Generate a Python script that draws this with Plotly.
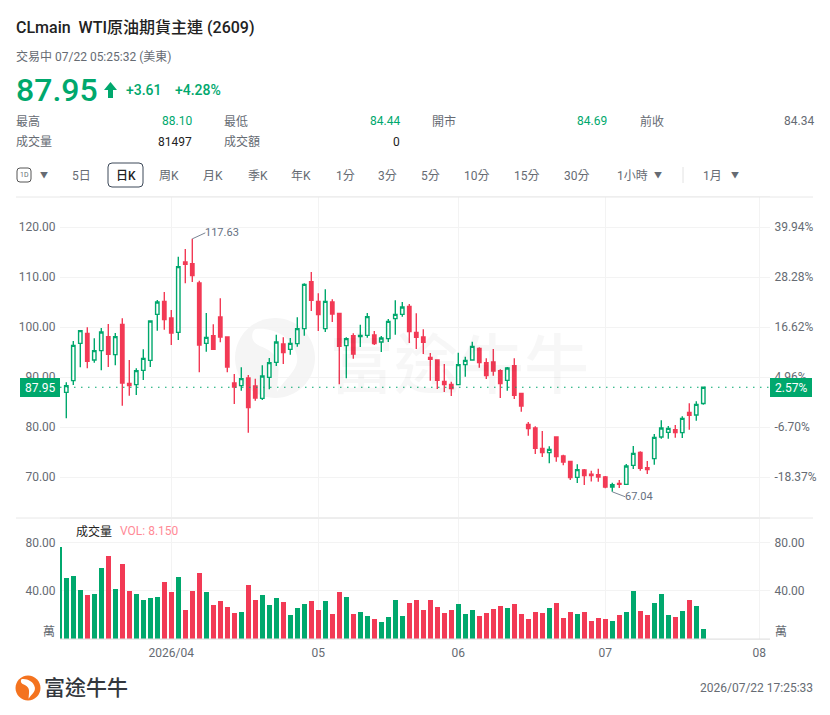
import plotly.graph_objects as go

# candles (volume has one extra bar at the left edge)
opens = [86.93, 89.27, 96.73, 98.73, 93.40, 95.27, 98.07, 94.47, 100.53, 88.73,
         88.47, 91.33, 93.33, 102.53, 105.13, 101.80, 98.93, 113.00, 112.67, 108.80,
         96.73, 98.27, 102.00, 98.00, 88.80, 88.27, 89.80, 88.20, 85.73, 89.93,
         92.93, 96.60, 95.53, 96.67, 99.67, 109.07, 105.13, 99.67, 105.00, 102.73,
         96.27, 98.27, 98.07, 98.33, 98.40, 97.00, 97.67, 101.67, 102.53, 104.13,
         98.93, 98.00, 93.93, 93.40, 89.13, 88.53, 88.47, 92.47, 93.40, 95.73,
         92.87, 93.00, 91.27, 89.33, 92.27, 86.73, 80.53, 79.80, 75.73, 74.87,
         78.00, 74.20, 73.13, 69.93, 71.40, 70.55, 70.47, 70.00, 68.00, 68.73,
         68.53, 72.33, 74.93, 71.87, 73.67, 78.00, 78.93, 79.47, 78.87, 82.93,
         82.40, 84.69]
highs = [88.93, 97.20, 99.33, 99.93, 97.73, 99.80, 100.60, 98.80, 101.73, 93.40,
         91.73, 95.53, 101.33, 105.40, 107.00, 103.40, 114.07, 115.60, 117.63, 109.27,
         102.80, 100.53, 105.73, 98.13, 90.60, 91.93, 90.40, 89.67, 92.33, 93.80,
         98.47, 97.93, 97.80, 101.93, 108.73, 111.00, 106.73, 107.53, 105.53, 102.73,
         97.93, 98.73, 100.47, 102.80, 99.20, 98.20, 101.60, 105.33, 105.00, 104.60,
         102.73, 99.53, 94.80, 93.53, 92.60, 89.07, 94.87, 94.07, 97.07, 95.93,
         93.73, 95.60, 91.53, 92.00, 93.73, 86.87, 81.00, 80.13, 79.20, 76.13,
         78.13, 74.47, 73.20, 72.53, 71.60, 71.27, 71.67, 70.20, 68.87, 69.40,
         72.60, 76.20, 75.13, 73.20, 78.60, 81.33, 80.20, 80.40, 82.13, 84.73,
         85.13, 88.10]
lows = [81.73, 88.40, 91.93, 91.73, 92.87, 91.33, 92.00, 92.33, 84.27, 86.27,
        86.40, 89.40, 92.00, 99.27, 99.47, 96.40, 97.40, 108.73, 109.00, 90.93,
        95.07, 95.40, 96.93, 90.93, 84.60, 87.27, 78.87, 85.27, 85.40, 87.53,
        92.20, 92.60, 94.47, 96.07, 98.27, 103.20, 99.20, 99.00, 101.00, 88.53,
        89.73, 93.67, 96.00, 97.87, 96.40, 95.00, 97.00, 98.47, 102.07, 96.80,
        95.60, 94.60, 89.27, 87.60, 87.00, 86.20, 88.33, 90.07, 93.27, 91.87,
        89.60, 90.27, 85.80, 87.27, 85.60, 83.07, 78.27, 74.60, 74.00, 72.73,
        73.07, 72.33, 69.40, 68.80, 68.40, 69.10, 69.07, 67.73, 67.04, 67.80,
        68.47, 71.60, 71.27, 70.60, 72.47, 77.67, 77.67, 77.87, 77.80, 79.47,
        81.27, 84.44]
closes = [88.27, 96.33, 99.27, 93.13, 95.27, 99.00, 94.53, 98.07, 88.80, 88.27,
          91.27, 93.73, 101.20, 105.00, 101.47, 98.80, 112.07, 112.53, 110.27, 96.40,
          97.93, 95.53, 98.00, 92.00, 88.00, 89.67, 83.87, 85.80, 90.20, 92.87,
          97.00, 94.87, 96.73, 99.67, 108.53, 105.33, 102.47, 105.13, 102.60, 96.13,
          97.67, 94.60, 98.33, 102.07, 96.67, 97.80, 101.13, 102.53, 104.00, 99.07,
          97.93, 96.93, 93.53, 89.33, 88.47, 87.67, 92.47, 93.33, 96.13, 92.87,
          90.27, 91.20, 88.67, 91.80, 86.33, 84.20, 79.67, 75.73, 74.87, 75.53,
          74.07, 73.00, 69.87, 71.47, 70.27, 70.30, 70.00, 68.00, 68.47, 68.53,
          72.20, 74.73, 71.73, 71.47, 77.93, 79.80, 79.73, 78.87, 81.73, 82.33,
          84.53, 87.95]
volumes = [76.7, 50.6, 52.2, 40.6, 36.4, 37.2, 58.9, 69.2, 41.7, 62.5,
           40.0, 37.5, 32.8, 33.9, 35.0, 47.2, 38.9, 51.4, 24.2, 39.7,
           55.0, 39.4, 28.3, 31.4, 26.9, 21.9, 22.2, 45.0, 32.8, 36.7,
           28.0, 34.4, 30.6, 19.7, 25.6, 29.4, 31.7, 24.2, 31.7, 20.6,
           39.2, 35.0, 21.1, 22.2, 19.2, 16.4, 13.9, 18.1, 32.2, 18.9,
           29.7, 32.5, 24.2, 32.8, 26.9, 21.4, 24.2, 28.9, 20.6, 23.9,
           19.4, 21.7, 24.7, 27.2, 25.6, 28.9, 20.6, 16.9, 22.2, 21.9,
           25.6, 29.7, 17.2, 22.5, 20.6, 22.2, 15.0, 17.2, 16.9, 15.3,
           20.0, 22.8, 40.0, 23.6, 19.7, 29.7, 37.5, 20.0, 18.3, 23.3,
           32.2, 27.2, 8.15]

date_ticks = [16, 37, 57, 78, 100]
date_labels = ['2026/04', '05', '06', '07', '08']
price_ticks = [70, 80, 90, 100, 110, 120]
pct_labels = ['-18.37%', '-6.70%', '4.96%', '16.62%', '28.28%', '39.94%']
vol_ticks = [40, 80]
last_price = 87.95
last_pct = '2.57%'

GREEN = '#00A86D'
RED = '#F23A55'
GRAY = '#666B73'
DARK = '#222222'
GRID = '#F3F3F3'
FONT = 'Roboto, "Noto Sans CJK TC", sans-serif'
W, H = 830, 715


def px(x):
    return x / W


def py(y):
    return 1 - y / H


x_candles = list(range(1, len(closes) + 1))
x_volume = list(range(len(volumes)))
# the first volume bar has no visible candle, it is green in the picture
bar_colors = [GREEN] + [GREEN if c >= o else RED for o, c in zip(opens, closes)]

fig = go.Figure()
fig.add_trace(go.Candlestick(x=x_candles, open=opens, high=highs, low=lows, close=closes,
                             xaxis='x', yaxis='y',
                             increasing=dict(line=dict(color=GREEN, width=1.4), fillcolor='white'),
                             decreasing=dict(line=dict(color=RED, width=1.4), fillcolor=RED)))
fig.add_trace(go.Scatter(x=x_candles, y=closes, xaxis='x', yaxis='y3', mode='lines',
                         line=dict(width=0), opacity=0, hoverinfo='skip'))
fig.add_trace(go.Bar(x=x_volume, y=volumes, xaxis='x2', yaxis='y2', width=0.72,
                     marker=dict(color=bar_colors, line=dict(width=0))))
fig.add_trace(go.Scatter(x=x_volume, y=volumes, xaxis='x2', yaxis='y4', mode='lines',
                         line=dict(width=0), opacity=0, hoverinfo='skip'))

x_range = [0.1, 101.53]
price_range = [61.8, 126]
vol_range = [0, 100.8]
tickfont = dict(family=FONT, size=12, color=GRAY)
common_x = dict(range=x_range, domain=[px(60), px(770)], tickvals=date_ticks, showgrid=True,
                gridcolor=GRID, gridwidth=1, zeroline=False, showline=True, linecolor=GRID,
                mirror=True)
common_y = dict(showgrid=True, gridcolor=GRID, gridwidth=1, zeroline=False, showline=False,
                tickfont=tickfont, ticks='outside', ticklen=1, tickcolor='rgba(0,0,0,0)')

fig.update_layout(
    width=W, height=H, margin=dict(l=0, r=0, t=0, b=0), autosize=False,
    paper_bgcolor='white', plot_bgcolor='white', showlegend=False,
    font=dict(family=FONT), bargap=0,
    xaxis=dict(common_x, anchor='y', showticklabels=False, ticks='', rangeslider=dict(visible=False)),
    xaxis2=dict(common_x, anchor='y2', ticktext=date_labels, tickmode='array', tickfont=tickfont,
                ticks='outside', ticklen=3, tickcolor='rgba(0,0,0,0)'),
    yaxis=dict(common_y, domain=[py(518), py(197)], range=price_range, tickvals=price_ticks,
               tickformat='.2f', side='left'),
    yaxis3=dict(common_y, range=price_range, tickvals=price_ticks, ticktext=pct_labels,
                overlaying='y', side='right', anchor='x', showgrid=False),
    yaxis2=dict(common_y, domain=[py(639), py(518)], range=vol_range, tickvals=vol_ticks,
                tickformat='.2f', side='left'),
    yaxis4=dict(common_y, range=vol_range, tickvals=vol_ticks, tickformat='.2f',
                overlaying='y2', side='right', anchor='x2', showgrid=False),
)


def text(x, y, s, size=12, color=GRAY, anchor='left', weight=400):
    fig.add_annotation(xref='paper', yref='paper', x=px(x), y=py(y), text=s, showarrow=False,
                       xanchor=anchor, yanchor='middle', borderpad=0, borderwidth=0,
                       font=dict(family=FONT, size=size, color=color, weight=weight))


def rounded_rect(x0, y0, x1, y1, r):
    return (f'M {px(x0 + r)} {py(y0)} L {px(x1 - r)} {py(y0)} Q {px(x1)} {py(y0)} {px(x1)} {py(y0 + r)} '
            f'L {px(x1)} {py(y1 - r)} Q {px(x1)} {py(y1)} {px(x1 - r)} {py(y1)} '
            f'L {px(x0 + r)} {py(y1)} Q {px(x0)} {py(y1)} {px(x0)} {py(y1 - r)} '
            f'L {px(x0)} {py(y0 + r)} Q {px(x0)} {py(y0)} {px(x0 + r)} {py(y0)} Z')


def logo(cx, cy, r, color, layer='above'):
    # brand mark, a disc with the white head cut out of it
    def p(u, v):
        return f'{px(cx + u * r)} {py(cy + v * r)}'
    disc = (f'M {p(-1, 0)} C {p(-1, -0.55)} {p(-0.55, -1)} {p(0, -1)} C {p(0.55, -1)} {p(1, -0.55)} {p(1, 0)} '
            f'C {p(1, 0.55)} {p(0.55, 1)} {p(0, 1)} C {p(-0.55, 1)} {p(-1, 0.55)} {p(-1, 0)} Z')
    head = (f'M {p(-0.5, -0.72)} C {p(-0.1, -0.78)} {p(0.45, -0.55)} {p(0.55, -0.05)} '
            f'C {p(0.6, 0.3)} {p(0.3, 0.45)} {p(0.05, 0.85)} C {p(0.05, 0.45)} {p(0.2, 0.1)} {p(-0.1, -0.15)} '
            f'C {p(-0.25, -0.28)} {p(-0.42, -0.28)} {p(-0.52, -0.4)} C {p(-0.6, -0.5)} {p(-0.58, -0.65)} {p(-0.5, -0.72)} Z')
    fig.add_shape(type='path', path=disc, xref='paper', yref='paper', fillcolor=color,
                  line=dict(width=0), layer=layer)
    fig.add_shape(type='path', path=head, xref='paper', yref='paper', fillcolor='white',
                  line=dict(width=0), layer=layer)


# header
text(16, 28, 'CLmain&nbsp;&nbsp;WTI原油期貨主連 (2609)', 16, DARK, weight=500)
text(16, 56, '交易中 07/22 05:25:32 (美東)', 12, GRAY)
text(16, 90, '87.95', 32, GREEN, weight=500)
text(126, 90, '+3.61', 14, GREEN, weight=500)
text(175, 90, '+4.28%', 14, GREEN, weight=500)
arrow = [(110.5, 82), (117, 90), (113, 90), (113, 98), (108, 98), (108, 90), (104, 90)]
fig.add_shape(type='path', xref='paper', yref='paper', fillcolor=GREEN, line=dict(width=0),
              path='M ' + ' L '.join(f'{px(a)} {py(b)}' for a, b in arrow) + ' Z')

for label, lx, val, vx, vc, row_y in [('最高', 16, '88.10', 192, GREEN, 121.5), ('最低', 224, '84.44', 400, GREEN, 121.5),
                                      ('開市', 432, '84.69', 607, GREEN, 121.5), ('前收', 640, '84.34', 814, GRAY, 121.5),
                                      ('成交量', 16, '81497', 192, DARK, 141.5), ('成交額', 224, '0', 400, DARK, 141.5)]:
    text(lx, row_y, label, 12, GRAY)
    text(vx, row_y, val, 12, vc, anchor='right')

# period toolbar
toolbar = [('5日', 81), ('周K', 169), ('月K', 213), ('季K', 258), ('年K', 301), ('1分', 345), ('3分', 387),
           ('5分', 430), ('10分', 477), ('15分', 527), ('30分', 577), ('1小時', 632), ('1月', 712)]
for label, cx in toolbar:
    text(cx, 175.5, label, 12, GRAY, anchor='center')
text(125.5, 175.5, '日K', 12, DARK, anchor='center', weight=500)
for cx in [44, 658, 735]:
    text(cx, 175, '▼', 8, GRAY, anchor='center')
fig.add_shape(type='path', path=rounded_rect(108, 163, 143, 187, 4), xref='paper', yref='paper',
              line=dict(color='#3C4858', width=1))
fig.add_shape(type='path', path=rounded_rect(17, 168, 31, 182, 3), xref='paper', yref='paper',
              line=dict(color='#555555', width=1))
text(24, 175, '1D', 7, GRAY, anchor='center')
fig.add_shape(type='line', xref='paper', yref='paper', x0=px(683), x1=px(683), y0=py(167), y1=py(183),
              line=dict(color='#E2E2E2', width=1))

# panel separators
for ly in [197, 518]:
    fig.add_shape(type='line', xref='paper', yref='paper', x0=px(16), x1=px(813), y0=py(ly), y1=py(ly),
                  line=dict(color='#E8E8E8', width=1))
fig.add_shape(type='line', xref='paper', yref='paper', x0=px(60), x1=px(770), y0=py(639), y1=py(639),
              line=dict(color='#E0E0E0', width=1))

# watermark
logo(275, 358, 40, '#F5F5F5', layer='below')
text(459, 366, '富途牛牛', 65, 'rgba(0,0,0,0.03)', anchor='center', weight=500)

# last price line and tags
fig.add_shape(type='line', xref='x', yref='y', x0=x_range[0], x1=x_range[1], y0=last_price, y1=last_price,
              line=dict(color=GREEN, width=1, dash='1.5px 5.5px'))
for x0, x1, s in [(20, 60, f'{last_price:.2f}'), (770, 812, last_pct)]:
    fig.add_shape(type='rect', xref='paper', yref='paper', x0=px(x0), x1=px(x1), y0=py(378), y1=py(397),
                  fillcolor=GREEN, line=dict(width=0))
    text((x0 + x1) / 2, 387.5, s, 12, 'white', anchor='center')

# high and low markers
for i, val, ax, ay in [(highs.index(max(highs)), max(highs), 13, -6), (lows.index(min(lows)), min(lows), 13, 5)]:
    fig.add_annotation(xref='x', yref='y', x=x_candles[i], y=val, text=f'{val:.2f}', showarrow=True, arrowhead=0,
                       arrowwidth=1, arrowcolor='#7A8594', ax=ax, ay=ay, axref='pixel', ayref='pixel',
                       xanchor='left', borderpad=0, borderwidth=0,
                       font=dict(family=FONT, size=11, color='#66707F'))

# volume panel
text(76, 531, '成交量', 12, DARK)
text(120, 531, 'VOL: 8.150', 12, '#FF8A96')
text(49, 632, '萬', 12, GRAY, anchor='center')
text(781, 632, '萬', 12, GRAY, anchor='center')

# footer
logo(28, 688, 12.5, '#F4731F')
text(44, 688, '富途牛牛', 21, '#33373D', weight=500)
text(813, 688, '2026/07/22 17:25:33', 12, GRAY, anchor='right')

fig.write_html('out.html', config=dict(displayModeBar=False),
               post_script="document.body.style.margin='0';")
